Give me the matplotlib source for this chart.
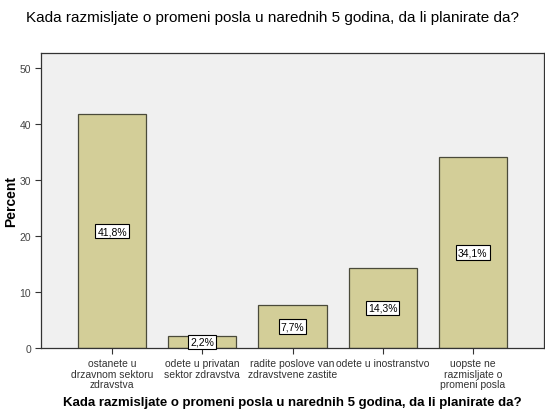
import matplotlib.pyplot as plt

# data
categories = ["ostanete u\ndrzavnom sektoru\nzdravstva",
              "odete u privatan\nsektor zdravstva",
              "radite poslove van\nzdravstvene zastite",
              "odete u inostranstvo",
              "uopste ne\nrazmisljate o\npromeni posla"]
percents = [41.8, 2.2, 7.7, 14.3, 34.1]
value_labels = ["41,8%", "2,2%", "7,7%", "14,3%", "34,1%"]
y_ticks = [0, 10, 20, 30, 40, 50]

question = "Kada razmisljate o promeni posla u narednih 5 godina, da li planirate da?"

plt.rcParams['font.family'] = ['Liberation Sans', 'DejaVu Sans']

fig = plt.figure(figsize=(5.45, 4.10), dpi=100)
ax = fig.add_axes([41/545, 1 - 349/410, (544 - 41)/545, (349 - 54)/410])
ax.set_facecolor("#f0f0f0")

x = list(range(len(categories)))
ax.bar(x, percents, width=0.755, color="#d3ce98", edgecolor="#4a4a3a", linewidth=0.9, zorder=2)

for xi, v, lab in zip(x, percents, value_labels):
    ax.text(xi, v / 2, lab, ha="center", va="center", fontsize=7.5, color="black", zorder=3,
            bbox=dict(boxstyle="square,pad=0.2", facecolor="white", edgecolor="black", linewidth=0.8))

ax.set_xlim(-0.79, 4.79)
ax.set_ylim(0, 52.7)
ax.set_yticks(y_ticks)
ax.set_yticklabels([str(t) for t in y_ticks], fontsize=7.5, color="#444444")
ax.set_xticks(x)
ax.set_xticklabels(categories, fontsize=7.5, color="#333333", linespacing=1.1)
ax.tick_params(axis="both", length=4, width=0.8, color="#333333", pad=3)

for s in ax.spines.values():
    s.set_color("#333333")
    s.set_linewidth(0.9)

ax.set_ylabel("Percent", fontsize=10, fontweight="bold")
ax.yaxis.set_label_coords(-0.045, 0.5)
ax.set_xlabel(question, fontsize=9.5, fontweight="bold", labelpad=5)

fig.text(0.5, 1 - 18/410, question, ha="center", va="center", fontsize=11, color="black")

fig.savefig("out.png", dpi=100)
